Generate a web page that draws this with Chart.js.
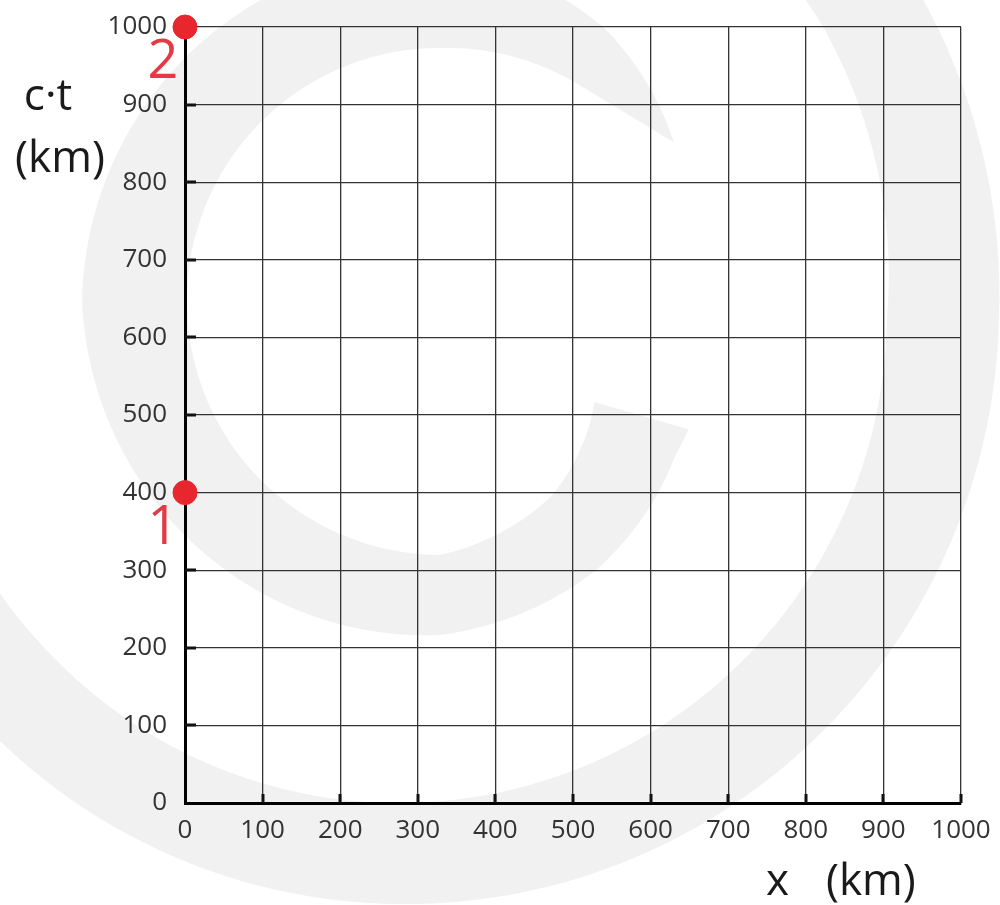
<!DOCTYPE html>
<html>
<head>
<meta charset="utf-8">
<script src="https://cdn.jsdelivr.net/npm/chart.js@4"></script>
<style>
  html,body{margin:0;padding:0;background:#fff;}
  canvas{display:block;}
</style>
</head>
<body>
<canvas id="c" width="1000" height="905"></canvas>
<script>
// ---- data ----
const eventX = [0, 0];          // x (km)
const eventCT = [1000, 400];    // c·t (km)
const eventLabels = ['2', '1'];
const xRange = [0, 1000];
const yRange = [0, 1000];
const tickStep = 100;
const xTitleParts = ['x', '(km)'];
const yTitleLines = ['c·t', '(km)'];

const FONT = "'Open Sans', 'Noto Sans', sans-serif";

// decorative watermark (light grey spiral logo)
function drawBand(ctx, cx, cy, keys, outA, inA) {
  const rad = d => d * Math.PI / 180;
  function interp(a, idx) {
    if (a <= keys[0][0]) return keys[0][idx];
    for (let i = 1; i < keys.length; i++) {
      if (a <= keys[i][0]) {
        const t = (a - keys[i-1][0]) / (keys[i][0] - keys[i-1][0]);
        return keys[i-1][idx] + t * (keys[i][idx] - keys[i-1][idx]);
      }
    }
    return keys[keys.length-1][idx];
  }
  ctx.beginPath();
  const N = 160;
  for (let i = 0; i <= N; i++) {
    const a = outA[0] + (outA[1] - outA[0]) * i / N;
    const r = interp(a, 2);
    const px = cx + r * Math.cos(rad(a)), py = cy + r * Math.sin(rad(a));
    if (i === 0) ctx.moveTo(px, py); else ctx.lineTo(px, py);
  }
  for (let i = N; i >= 0; i--) {
    const a = inA[0] + (inA[1] - inA[0]) * i / N;
    const r = interp(a, 1);
    ctx.lineTo(cx + r * Math.cos(rad(a)), cy + r * Math.sin(rad(a)));
  }
  ctx.closePath();
  ctx.fill();
}

const bgPlugin = {
  id: 'bg',
  beforeDraw(chart) {
    const ctx = chart.ctx;
    ctx.save();
    ctx.fillStyle = '#ffffff';
    ctx.fillRect(0, 0, chart.width, chart.height);
    ctx.fillStyle = '#f1f1f1';
    drawBand(ctx, 393, 318,
      [[-70,532,628],[-35,520,620],[0,494,606],[90,485,586],[135,480,577],[210,480,575]],
      [-70, 210], [-70, 210]);
    drawBand(ctx, 440, 300,
      [[27,185,280],[33.5,185,282],[60,225,312],[90,255,335],[180,253,358],[270,252,345],[301,256,318],[326,260,282]],
      [27.5, 326], [33.5, 301]);
    ctx.restore();
  },
  beforeDatasetsDraw(chart) {
    // short inward tick marks
    const ctx = chart.ctx, xs = chart.scales.x, ys = chart.scales.y, area = chart.chartArea;
    ctx.save();
    ctx.strokeStyle = '#111';
    ctx.lineWidth = 3;
    xs.ticks.forEach(t => {
      if (t.value === xRange[0]) return;
      const px = Math.round(xs.getPixelForValue(t.value));
      ctx.beginPath(); ctx.moveTo(px, area.bottom); ctx.lineTo(px, area.bottom - 9); ctx.stroke();
    });
    ys.ticks.forEach(t => {
      if (t.value === yRange[0]) return;
      const py = Math.round(ys.getPixelForValue(t.value));
      ctx.beginPath(); ctx.moveTo(area.left, py); ctx.lineTo(area.left + 11, py); ctx.stroke();
    });
    ctx.restore();
  },
  afterDraw(chart) {
    const ctx = chart.ctx, xs = chart.scales.x, ys = chart.scales.y;
    ctx.save();
    // event labels
    ctx.fillStyle = '#e33a45';
    ctx.font = '54px ' + FONT;
    ctx.textAlign = 'center';
    ctx.textBaseline = 'middle';
    eventLabels.forEach((lab, i) => {
      const px = xs.getPixelForValue(eventX[i]) - 22;
      const py = ys.getPixelForValue(eventCT[i]) + 36;
      ctx.fillText(lab, px, py);
    });
    // axis titles
    ctx.fillStyle = '#1a1a1a';
    ctx.font = '44px ' + FONT;
    ctx.textAlign = 'center';
    ctx.textBaseline = 'alphabetic';
    ctx.fillText(yTitleLines[0], 48, 110);
    ctx.fillText(yTitleLines[1], 60, 172);
    ctx.textAlign = 'left';
    ctx.fillText(xTitleParts[0], 766, 895);
    ctx.fillText(xTitleParts[1], 826, 895);
    ctx.restore();
  }
};

const tickFont = { family: FONT, size: 26 };
const fmt = v => String(v);

new Chart(document.getElementById('c'), {
  type: 'scatter',
  data: {
    datasets: [{
      data: eventX.map((x, i) => ({ x: x, y: eventCT[i] })),
      backgroundColor: '#e8262e',
      borderColor: '#e8262e',
      pointRadius: 12,
      pointHoverRadius: 12,
      clip: false
    }]
  },
  options: {
    responsive: false,
    animation: false,
    devicePixelRatio: 1,
    layout: { padding: { left: 0, right: 39, top: 27, bottom: 0 } },
    plugins: { legend: { display: false }, tooltip: { enabled: false } },
    scales: {
      x: {
        type: 'linear', min: xRange[0], max: xRange[1],
        ticks: { stepSize: tickStep, color: '#333', font: tickFont, padding: 12, maxRotation: 0, autoSkip: false, callback: fmt },
        grid: { color: '#333', lineWidth: 1.3, drawTicks: false },
        border: { color: '#000', width: 3 },
        afterFit: s => { s.height = 102; s.paddingLeft = 0; s.paddingRight = 0; }
      },
      y: {
        type: 'linear', min: yRange[0], max: yRange[1],
        ticks: { stepSize: tickStep, color: '#333', font: tickFont, padding: 18, autoSkip: false, callback: fmt },
        grid: { color: '#333', lineWidth: 1.3, drawTicks: false },
        border: { color: '#000', width: 3 },
        afterFit: s => { s.width = 185; s.paddingTop = 0; s.paddingBottom = 0; }
      }
    }
  },
  plugins: [bgPlugin]
});
</script>
</body>
</html>
